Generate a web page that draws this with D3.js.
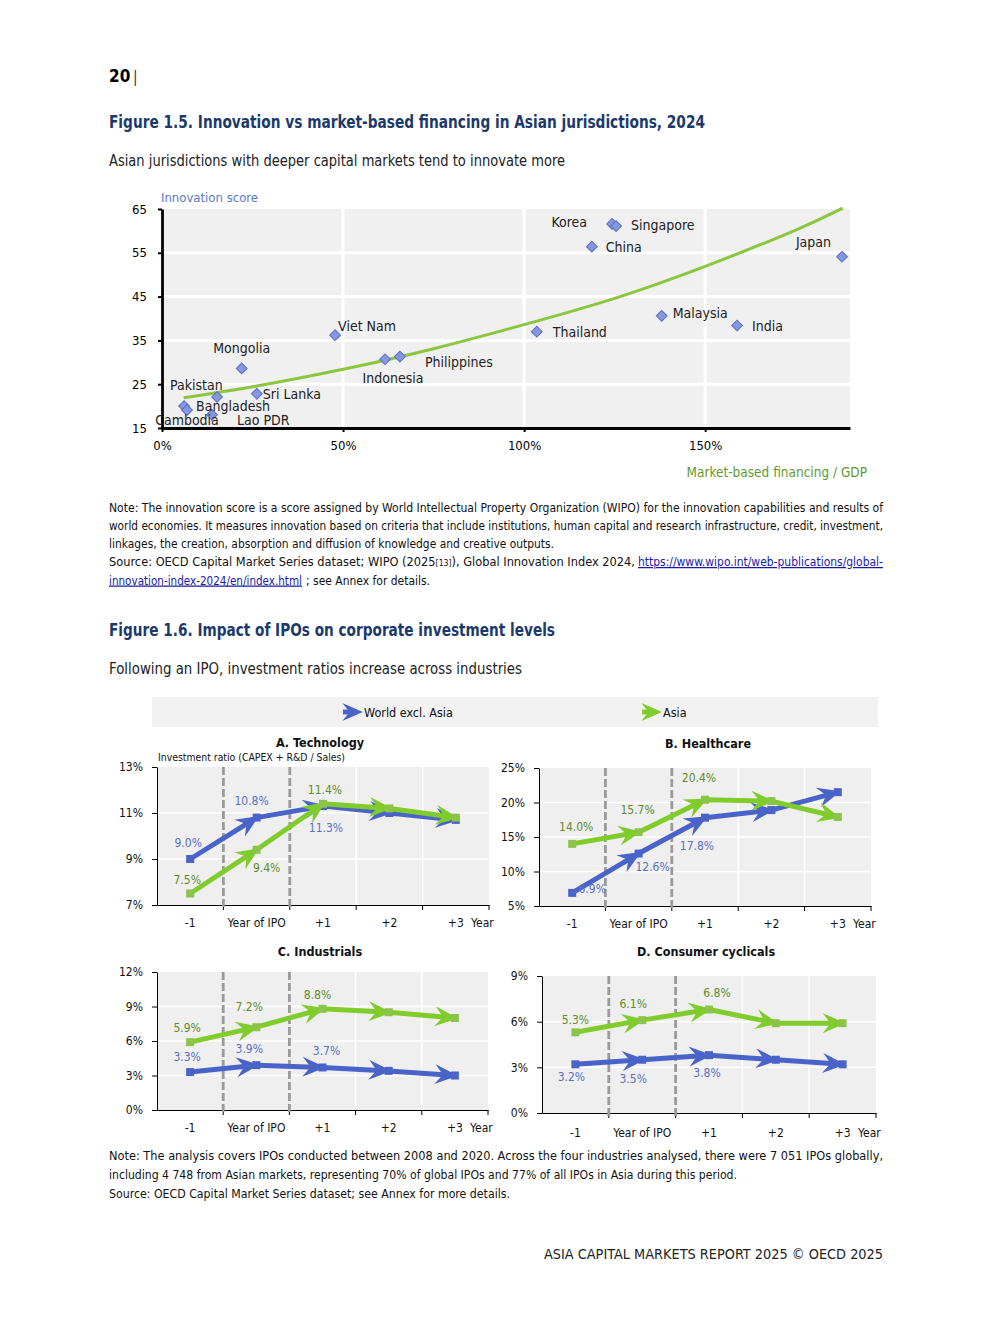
<!DOCTYPE html>
<html>
<head>
<meta charset="utf-8">
<script src="https://d3js.org/d3.v7.min.js"></script>
<style>
  body { margin: 0; background: #fff; }
  svg text { font-family: 'Liberation Sans Narrow', 'Arial Narrow', 'DejaVu Sans Condensed', sans-serif; }
</style>
</head>
<body>
<div id="page"></div>
<script>
// ---- Figure 1.5 data ----
const countries = ["Korea", "Singapore", "China", "Japan", "Thailand", "Malaysia", "India", "Viet Nam",
  "Mongolia", "Indonesia", "Philippines", "Sri Lanka", "Pakistan", "Bangladesh", "Cambodia", "Lao PDR"];
const financing = [124.3, 125.4, 118.7, 187.8, 103.5, 138.0, 158.8, 47.8, 22.0, 61.6, 65.7, 26.2, 15.2, 6.1, 6.9, 13.8];
const innovation = [61.6, 61.1, 56.4, 54.1, 37.0, 40.6, 38.4, 36.2, 28.6, 30.7, 31.3, 22.8, 22.1, 20.0, 19.1, 18.0];
const trendFinancing = [6, 25, 50, 75, 100, 125, 150, 175, 188];
const trendScore = [21.9, 24.4, 28.4, 33.1, 38.6, 44.6, 51.9, 60.2, 65.2];
const scoreTicks = [15, 25, 35, 45, 55, 65];
const financingTicks = [0, 50, 100, 150];

// ---- Figure 1.6 data ----
const years = ["-1", "Year of IPO", "+1", "+2", "+3"];
const techWorld = [9.0, 10.8, 11.3, 11.0, 10.7];
const techAsia = [7.5, 9.4, 11.4, 11.2, 10.8];
const healthWorld = [6.9, 12.6, 17.8, 18.9, 21.5];
const healthAsia = [14.0, 15.7, 20.4, 20.2, 17.9];
const indWorld = [3.3, 3.9, 3.7, 3.4, 3.0];
const indAsia = [5.9, 7.2, 8.8, 8.5, 8.0];
const consWorld = [3.2, 3.5, 3.8, 3.5, 3.2];
const consAsia = [5.3, 6.1, 6.8, 5.9, 5.9];
const techTicks = [7, 9, 11, 13];
const healthTicks = [5, 10, 15, 20, 25];
const indTicks = [0, 3, 6, 9, 12];
const consTicks = [0, 3, 6, 9];

const BLUE = "#4a63c9", BLUE_LAB = "#5a70c6";
const GREEN = "#80cc2c", GREEN_SQ = "#8cc44a", GREEN_LAB = "#5e8c2c";
const TITLE = "#1b3a6b";
const FONT = "'Liberation Sans Narrow', 'Arial Narrow', 'DejaVu Sans Condensed', sans-serif";

const svg = d3.select("#page").append("svg").attr("width", 992).attr("height", 1323);

function text(x, y, s, o = {}) {
  const t = svg.append("text").attr("x", x).attr("y", y).text(s)
    .attr("font-size", o.size || 12).attr("fill", o.fill || "#000")
    .attr("text-anchor", o.anchor || "start");
  if (o.weight) t.attr("font-weight", o.weight);
  if (o.len) t.attr("textLength", o.len).attr("lengthAdjust", "spacingAndGlyphs");
  if (o.central) t.attr("dominant-baseline", "central");
  return t;
}

// page header
text(109, 82, "20", { size: 17, weight: "bold" });
text(133, 82, "|", { size: 15, fill: "#333" });

// ================= Figure 1.5 =================
text(109, 128, "Figure 1.5. Innovation vs market-based financing in Asian jurisdictions, 2024", { size: 18, weight: "bold", fill: TITLE, len: 596 });
text(109, 165.5, "Asian jurisdictions with deeper capital markets tend to innovate more", { size: 15.5, fill: "#222", len: 456 });

const sx = d3.scaleLinear().domain([0, 190]).range([162, 850]);
const sy = d3.scaleLinear().domain([15, 65]).range([428, 209]);

const sc = svg.append("g");
sc.append("rect").attr("x", sx(0)).attr("y", sy(65)).attr("width", sx(190) - sx(0)).attr("height", sy(15) - sy(65)).attr("fill", "#f0f0f0");
sc.selectAll(".hgrid").data(scoreTicks.slice(1, -1)).enter().append("line")
  .attr("x1", sx(0)).attr("x2", sx(190)).attr("y1", d => sy(d)).attr("y2", d => sy(d))
  .attr("stroke", "#fff").attr("stroke-width", 3);
sc.selectAll(".vgrid").data(financingTicks.slice(1)).enter().append("line")
  .attr("y1", sy(65)).attr("y2", sy(15)).attr("x1", d => sx(d)).attr("x2", d => sx(d))
  .attr("stroke", "#fff").attr("stroke-width", 3);

const syAxis = sc.append("g").attr("transform", `translate(${sx(0)},0)`)
  .call(d3.axisLeft(sy).tickValues(scoreTicks).tickSize(4).tickSizeOuter(0).tickPadding(11));
const sxAxis = sc.append("g").attr("transform", `translate(0,${sy(15)})`)
  .call(d3.axisBottom(sx).tickValues(financingTicks).tickFormat(d => d + "%").tickSize(4).tickSizeOuter(0).tickPadding(9));
[syAxis, sxAxis].forEach(a => {
  a.select(".domain").attr("stroke", "#000").attr("stroke-width", 2.8);
  a.selectAll(".tick line").attr("stroke", "#000").attr("stroke-width", 2);
  a.selectAll("text").attr("font-size", 13).attr("fill", "#000").style("font-family", FONT);
});

// trend line
sc.append("path")
  .attr("d", d3.line().curve(d3.curveNatural)(trendFinancing.map((f, i) => [sx(f), sy(trendScore[i])])))
  .attr("fill", "none").attr("stroke", "#8cc63f").attr("stroke-width", 3);

// points
const diamond = d3.symbol(d3.symbolSquare, 58);
sc.selectAll(".pt").data(countries).enter().append("path")
  .attr("d", diamond)
  .attr("transform", (d, i) => `translate(${sx(financing[i])},${sy(innovation[i])}) rotate(45)`)
  .attr("fill", "#8597de").attr("stroke", "#5b6fc8").attr("stroke-width", 1);

// label placement (offsets from the marker)
const labelPos = {
  "Korea": [-25, -2, "end"], "Singapore": [15, -1, "start"], "China": [14, 0, "start"],
  "Japan": [-11, -15, "end"], "Thailand": [16, 0, "start"], "Malaysia": [11, -3, "start"],
  "India": [15, 0, "start"], "Viet Nam": [3, -9, "start"], "Mongolia": [0, -20, "middle"],
  "Indonesia": [8, 19, "middle"], "Philippines": [25, 5, "start"], "Sri Lanka": [6, 0, "start"],
  "Pakistan": [-47, -12, "start"], "Bangladesh": [12, 0, "start"], "Cambodia": [0, 10, "middle"],
  "Lao PDR": [25, 5, "start"]
};
countries.forEach((c, i) => {
  const [dx, dy, anchor] = labelPos[c];
  text(sx(financing[i]) + dx, sy(innovation[i]) + dy, c, { size: 14, fill: "#222", anchor, central: true });
});

text(161, 197, "Innovation score", { size: 13, fill: "#5b77c8", central: true });
text(867, 472, "Market-based financing / GDP", { size: 13.5, fill: "#5f9a2e", anchor: "end", central: true });

// notes fig 1.5
const NOTE = { size: 12.5, fill: "#111" };
text(109, 511.5, "Note: The innovation score is a score assigned by World Intellectual Property Organization (WIPO) for the innovation capabilities and results of", { ...NOTE, len: 774 });
text(109, 529.5, "world economies. It measures innovation based on criteria that include institutions, human capital and research infrastructure, credit, investment,", { ...NOTE, len: 774 });
text(109, 547.5, "linkages, the creation, absorption and diffusion of knowledge and creative outputs.", { ...NOTE, len: 445 });
const src = text(109, 566, "", { ...NOTE, len: 526 });
src.append("tspan").text("Source: OECD Capital Market Series dataset; WIPO (2025");
src.append("tspan").attr("font-size", 8.5).text("[13]");
src.append("tspan").text("), Global Innovation Index 2024,");
text(638, 566, "https://www.wipo.int/web-publications/global-", { ...NOTE, fill: "#1a1aa6", len: 245 }).attr("text-decoration", "underline");
text(109, 584.5, "innovation-index-2024/en/index.html", { ...NOTE, fill: "#1a1aa6", len: 193 }).attr("text-decoration", "underline");
text(306, 584.5, "; see Annex for details.", { ...NOTE, len: 124 });

// ================= Figure 1.6 =================
text(109, 636, "Figure 1.6. Impact of IPOs on corporate investment levels", { size: 18, weight: "bold", fill: TITLE, len: 446 });
text(109, 673.5, "Following an IPO, investment ratios increase across industries", { size: 15.5, fill: "#222", len: 413 });

const head = "M0,0 L-23,-10 L-15,0 L-23,10 Z";

// legend
svg.append("rect").attr("x", 152).attr("y", 697).attr("width", 726).attr("height", 30).attr("fill", "#f2f2f2");
[[BLUE, 343, "World excl. Asia"], [GREEN, 642, "Asia"]].forEach(([col, x, lab]) => {
  svg.append("line").attr("x1", x).attr("x2", x + 12).attr("y1", 712).attr("y2", 712).attr("stroke", col).attr("stroke-width", 5);
  svg.append("path").attr("d", head).attr("fill", col).attr("transform", `translate(${x + 20},712) scale(0.9)`);
  text(x + 21, 712, lab, { size: 12.5, fill: "#111", central: true });
});

text(158, 761, "Investment ratio  (CAPEX + R&D  / Sales)", { size: 10.5, fill: "#111", len: 187 });

const panels = [
  { title: "A.  Technology", world: techWorld, asia: techAsia, ticks: techTicks,
    x0: 157, x1: 489, y0: 767, y1: 905, tx: 320, ty: 747, pad: 13,
    worldLab: [[-2, -16], [-5, -17], [3, 22]], asiaLab: [[-3, -14], [10, 18], [2, -14]] },
  { title: "B.  Healthcare", world: healthWorld, asia: healthAsia, ticks: healthTicks,
    x0: 539, x1: 871, y0: 768, y1: 906, tx: 708, ty: 748, pad: 13,
    worldLab: [[20, -4], [14, 13], [-8, 28]], asiaLab: [[4, -17], [-1, -22], [-6, -22]] },
  { title: "C.  Industrials", world: indWorld, asia: indAsia, ticks: indTicks,
    x0: 157, x1: 488, y0: 972, y1: 1110, tx: 320, ty: 956, pad: 13,
    worldLab: [[-3, -15], [-7, -16], [4, -16]], asiaLab: [[-3, -14], [-7, -20], [-5, -14]] },
  { title: "D. Consumer cyclicals", world: consWorld, asia: consAsia, ticks: consTicks,
    x0: 542, x1: 876, y0: 976, y1: 1113, tx: 706, ty: 956, pad: 15,
    worldLab: [[-4, 13], [-9, 19], [-2, 18]], asiaLab: [[0, -12], [-9, -16], [8, -16]] }
];

function drawSeries(g, pts, lineCol, sqCol) {
  g.append("path").attr("d", d3.line()(pts)).attr("fill", "none")
    .attr("stroke", lineCol).attr("stroke-width", 5).attr("stroke-linejoin", "round");
  for (let i = 1; i < pts.length; i++) {
    const [ax, ay] = pts[i - 1], [bx, by] = pts[i];
    const ang = Math.atan2(by - ay, bx - ax) * 180 / Math.PI;
    g.append("path").attr("d", head).attr("fill", lineCol)
      .attr("transform", `translate(${bx},${by}) rotate(${ang}) translate(3,0)`);
  }
  g.selectAll(null).data(pts).enter().append("rect")
    .attr("x", d => d[0] - 4).attr("y", d => d[1] - 4).attr("width", 8).attr("height", 8)
    .attr("fill", sqCol);
}

panels.forEach(p => {
  const x = d3.scaleBand().domain(years).range([p.x0, p.x1]);
  const y = d3.scaleLinear().domain(d3.extent(p.ticks)).range([p.y1, p.y0]);
  const g = svg.append("g");
  const cx = d => x(d) + x.bandwidth() / 2;

  g.append("rect").attr("x", p.x0).attr("y", p.y0).attr("width", p.x1 - p.x0).attr("height", p.y1 - p.y0).attr("fill", "#efefef");
  g.selectAll(".hg").data(p.ticks.slice(1, -1)).enter().append("line")
    .attr("x1", p.x0).attr("x2", p.x1).attr("y1", d => y(d)).attr("y2", d => y(d))
    .attr("stroke", "#fff").attr("stroke-width", 1.5);
  const bounds = years.slice(1).map(d => x(d));
  g.selectAll(".vg").data(bounds.slice(2)).enter().append("line")
    .attr("x1", d => d).attr("x2", d => d).attr("y1", p.y0).attr("y2", p.y1)
    .attr("stroke", "#fff").attr("stroke-width", 1.5);

  // axes
  const ya = g.append("g").attr("transform", `translate(${p.x0},0)`)
    .call(d3.axisLeft(y).tickValues(p.ticks).tickFormat(d => d + "%").tickSize(5).tickSizeOuter(0).tickPadding(9));
  const xa = g.append("g").attr("transform", `translate(0,${p.y1})`)
    .call(d3.axisBottom(x).tickSize(0).tickSizeOuter(0).tickPadding(p.pad));
  [ya, xa].forEach(a => {
    a.select(".domain").attr("stroke", "#000").attr("stroke-width", 1);
    a.selectAll("text").attr("font-size", 12).attr("fill", "#111").style("font-family", FONT);
  });
  g.selectAll(".bt").data(bounds.concat([p.x1])).enter().append("line")
    .attr("x1", d => d).attr("x2", d => d).attr("y1", p.y1).attr("y2", p.y1 + 5)
    .attr("stroke", "#000").attr("stroke-width", 1);
  // IPO window markers
  g.selectAll(".dash").data(bounds.slice(0, 2)).enter().append("line")
    .attr("x1", d => d).attr("x2", d => d).attr("y1", p.y0).attr("y2", p.y1 + 5)
    .attr("stroke", "#9a9a9a").attr("stroke-width", 2.8).attr("stroke-dasharray", "8,3");

  text(p.x1 - 18, p.y1 + p.pad + 4.5, "Year", { size: 12, fill: "#111", central: true });
  text(p.tx, p.ty, p.title, { size: 12.5, weight: "bold", anchor: "middle", fill: "#111" });

  const wPts = p.world.map((v, i) => [cx(years[i]), y(v)]);
  const aPts = p.asia.map((v, i) => [cx(years[i]), y(v)]);
  drawSeries(g, wPts, BLUE, BLUE);
  drawSeries(g, aPts, GREEN, GREEN_SQ);

  p.worldLab.forEach(([dx, dy], i) =>
    text(wPts[i][0] + dx, wPts[i][1] + dy, p.world[i].toFixed(1) + "%", { size: 12, fill: BLUE_LAB, anchor: "middle", central: true }));
  p.asiaLab.forEach(([dx, dy], i) =>
    text(aPts[i][0] + dx, aPts[i][1] + dy, p.asia[i].toFixed(1) + "%", { size: 12, fill: GREEN_LAB, anchor: "middle", central: true }));
});

// notes fig 1.6
text(109, 1160, "Note: The analysis covers IPOs conducted between 2008 and 2020. Across the four industries analysed, there were 7 051 IPOs globally,", { ...NOTE, len: 774 });
text(109, 1179, "including 4 748 from Asian markets, representing 70% of global IPOs and 77% of all IPOs in Asia during this period.", { ...NOTE, len: 628 });
text(109, 1197.5, "Source: OECD Capital Market Series dataset; see Annex for more details.", { ...NOTE, len: 401 });

text(883, 1259, "ASIA CAPITAL MARKETS REPORT 2025 © OECD 2025", { size: 13.5, fill: "#222", anchor: "end", len: 339 });
</script>
</body>
</html>
